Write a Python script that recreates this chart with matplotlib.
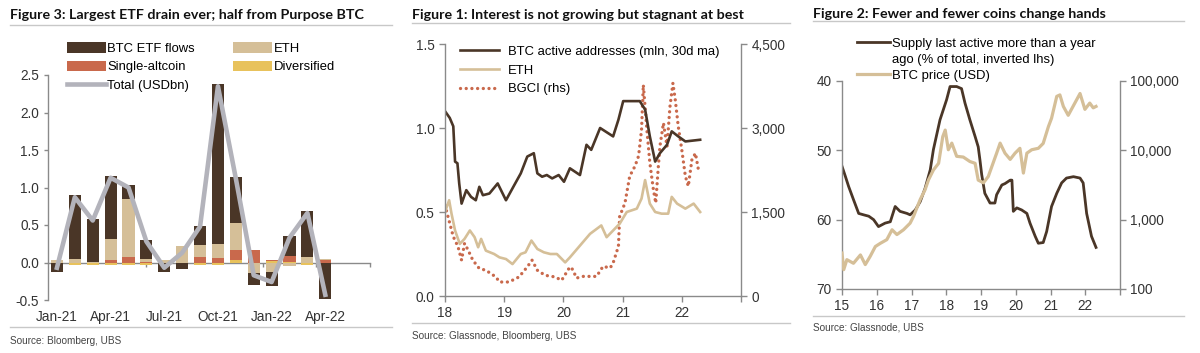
import matplotlib
matplotlib.use('Agg')
import matplotlib.pyplot as plt
import numpy as np
from matplotlib.lines import Line2D
import matplotlib.ticker as mticker

plt.rcParams['font.family'] = ['Liberation Sans', 'DejaVu Sans']

W, H = 1200, 353
fig = plt.figure(figsize=(12, 3.53), dpi=100)


def fx(x):
    return x / W


def fy(y):
    return 1 - y / H


DARK = '#4a3627'
TAN = '#d5bf98'
ORANGE = '#c9694c'
YELLOW = '#e8c25c'
GREY = '#b3b3bb'
SPINE = '#8a8a8a'
TXT = '#333333'
RULE = '#c8c8c8'
TICK_FS = 9.8
LEG_FS = 9.4

# ---------------- Figure 3 data (monthly ETF flows, USDbn) ----------------
months = ['Jan-21', 'Feb-21', 'Mar-21', 'Apr-21', 'May-21', 'Jun-21', 'Jul-21', 'Aug-21',
          'Sep-21', 'Oct-21', 'Nov-21', 'Dec-21', 'Jan-22', 'Feb-22', 'Mar-22', 'Apr-22']
btc_flows = [-0.11, 0.85, 0.57, 0.84, 0.19, 0.25, -0.11, -0.09,
             0.25, 2.13, 0.61, -0.16, -0.19, 0.26, 0.62, -0.48]
eth_flows = [0.04, 0.05, 0.01, 0.28, 0.78, 0.04, 0.03, 0.22,
             0.16, 0.19, 0.36, -0.14, -0.12, -0.04, 0.07, 0.02]
single_flows = [0.00, 0.00, 0.00, 0.04, 0.07, 0.01, 0.00, 0.00,
                0.08, 0.06, 0.14, 0.17, 0.01, 0.08, 0.00, 0.03]
diversified_flows = [-0.01, -0.03, -0.03, -0.03, -0.03, -0.03, -0.01, 0.00,
                     -0.03, -0.03, 0.03, 0.00, 0.02, 0.01, -0.03, 0.00]
total_flows = [-0.07, 0.87, 0.56, 1.13, 1.00, 0.28, -0.07, 0.13,
               0.48, 2.35, 1.12, -0.17, -0.26, 0.33, 0.66, -0.43]
p1_ticklabels = ['Jan-21', 'Apr-21', 'Jul-21', 'Oct-21', 'Jan-22', 'Apr-22']

# ---------------- Figure 1 data ----------------
btc_active_x = [2018.00, 2018.08, 2018.14, 2018.17, 2018.21, 2018.24, 2018.28, 2018.36, 2018.44,
                2018.52, 2018.58, 2018.64, 2018.75, 2018.89, 2019.03, 2019.17, 2019.28, 2019.39,
                2019.50, 2019.56, 2019.64, 2019.72, 2019.81, 2019.92, 2020.01, 2020.11, 2020.28,
                2020.39, 2020.47, 2020.62, 2020.84, 2020.93, 2021.01, 2021.29, 2021.38, 2021.46,
                2021.55, 2021.63, 2021.75, 2021.83, 2021.94, 2022.06, 2022.31]
btc_active_y = [1.10, 1.06, 1.01, 0.80, 0.79, 0.67, 0.55, 0.63, 0.59,
                0.57, 0.65, 0.60, 0.61, 0.67, 0.57, 0.66, 0.73, 0.83,
                0.85, 0.73, 0.71, 0.72, 0.70, 0.72, 0.68, 0.76, 0.72,
                0.90, 0.87, 1.00, 0.95, 1.05, 1.16, 1.16, 1.11, 0.95,
                0.80, 0.85, 0.90, 0.98, 0.95, 0.92, 0.93]
eth_active_x = [2018.00, 2018.07, 2018.11, 2018.17, 2018.25, 2018.33, 2018.42, 2018.50, 2018.56,
                2018.61, 2018.69, 2018.83, 2018.92, 2019.03, 2019.14, 2019.28, 2019.36, 2019.46,
                2019.56, 2019.67, 2019.78, 2019.89, 2020.03, 2020.11, 2020.28, 2020.45, 2020.64,
                2020.73, 2020.84, 2020.95, 2021.07, 2021.24, 2021.32, 2021.38, 2021.46, 2021.55,
                2021.66, 2021.77, 2021.83, 2021.92, 2022.06, 2022.20, 2022.31]
eth_active_y = [0.50, 0.57, 0.49, 0.39, 0.31, 0.34, 0.39, 0.35, 0.29,
                0.34, 0.27, 0.25, 0.23, 0.22, 0.19, 0.25, 0.26, 0.33,
                0.28, 0.26, 0.25, 0.25, 0.20, 0.23, 0.30, 0.37, 0.42,
                0.35, 0.39, 0.43, 0.50, 0.52, 0.58, 0.69, 0.55, 0.50,
                0.49, 0.49, 0.59, 0.55, 0.52, 0.55, 0.50]
bgci_x = [2018.00, 2018.08, 2018.14, 2018.22, 2018.28, 2018.33, 2018.39, 2018.47, 2018.58,
          2018.69, 2018.86, 2018.92, 2019.08, 2019.25, 2019.39, 2019.47, 2019.56, 2019.69,
          2019.86, 2019.97, 2020.11, 2020.16, 2020.22, 2020.33, 2020.56, 2020.67, 2020.79,
          2020.84, 2020.93, 2020.95, 2021.04, 2021.12, 2021.21, 2021.27, 2021.32, 2021.35,
          2021.41, 2021.46, 2021.52, 2021.56, 2021.60, 2021.63, 2021.69, 2021.75, 2021.80,
          2021.85, 2021.89, 2021.94, 2022.00, 2022.06, 2022.11, 2022.17, 2022.23, 2022.28,
          2022.31]
bgci_y = [1620, 1300, 1060, 880, 640, 940, 820, 640, 490,
          460, 340, 250, 250, 340, 520, 640, 460, 370,
          340, 280, 520, 470, 320, 350, 350, 530, 500,
          590, 890, 1420, 1660, 2140, 2320, 2500, 2970, 3770,
          2970, 2380, 1900, 1660, 2260, 2670, 3090, 2670, 3380,
          3800, 3500, 3030, 2610, 2140, 1960, 2430, 2550, 2260,
          2200]

# ---------------- Figure 2 data ----------------
supply_x = [2015.00, 2015.10, 2015.19, 2015.33, 2015.48, 2015.62, 2015.77, 2015.91, 2016.05,
            2016.24, 2016.39, 2016.53, 2016.67, 2016.87, 2016.96, 2017.11, 2017.25, 2017.39,
            2017.54, 2017.63, 2017.82, 2018.01, 2018.11, 2018.30, 2018.44, 2018.54, 2018.68,
            2018.83, 2018.92, 2018.97, 2019.02, 2019.11, 2019.26, 2019.40, 2019.45, 2019.60,
            2019.69, 2019.84, 2019.89, 2019.93, 2020.03, 2020.17, 2020.32, 2020.41, 2020.56,
            2020.65, 2020.79, 2020.89, 2021.03, 2021.18, 2021.32, 2021.46, 2021.66, 2021.85,
            2021.94, 2022.04, 2022.18, 2022.31]
supply_y = [52.3, 53.8, 55.2, 57.1, 59.1, 59.3, 59.5, 60.0, 61.0,
            60.5, 60.3, 58.1, 58.8, 59.1, 59.3, 58.6, 57.4, 55.5,
            52.8, 49.9, 45.6, 42.7, 40.8, 40.8, 41.1, 43.2, 45.6,
            48.0, 49.5, 51.4, 53.5, 56.2, 57.6, 57.6, 56.4, 55.0,
            54.8, 54.3, 54.3, 58.8, 58.3, 58.6, 59.1, 60.5, 62.4,
            63.4, 63.3, 61.7, 58.1, 56.2, 54.7, 54.0, 53.8, 54.0,
            54.7, 59.1, 62.4, 64.0]
price_x = [2015.00, 2015.05, 2015.14, 2015.33, 2015.53, 2015.67, 2015.81, 2015.96, 2016.10,
           2016.29, 2016.44, 2016.58, 2016.77, 2016.96, 2017.06, 2017.25, 2017.39, 2017.49,
           2017.63, 2017.78, 2017.90, 2017.97, 2018.06, 2018.16, 2018.30, 2018.49, 2018.68,
           2018.83, 2018.92, 2019.07, 2019.21, 2019.45, 2019.55, 2019.69, 2019.84, 2019.98,
           2020.12, 2020.22, 2020.32, 2020.46, 2020.65, 2020.79, 2020.94, 2021.03, 2021.18,
           2021.27, 2021.37, 2021.51, 2021.70, 2021.85, 2021.99, 2022.13, 2022.23, 2022.31]
price_y = [330, 190, 265, 235, 310, 225, 295, 410, 455,
           515, 715, 610, 715, 890, 1120, 1950, 2700, 3760,
           5200, 6500, 15800, 19600, 10200, 12700, 8200, 8000, 6900,
           6500, 3720, 3400, 4200, 9100, 12700, 9100, 7400, 9100,
           10700, 4700, 9100, 10200, 10700, 12600, 22000, 29000, 60000,
           63000, 43000, 32000, 48000, 66000, 39000, 48000, 41000, 43000]


def style_spines(ax, sides):
    for s in ['left', 'right', 'top', 'bottom']:
        ax.spines[s].set_visible(s in sides)
        ax.spines[s].set_color(SPINE)
        ax.spines[s].set_linewidth(1.0)
    ax.tick_params(colors=SPINE, labelcolor=TXT, labelsize=TICK_FS, length=4, width=1.0)


def header(x0, x1, ytitle, yrule, title, ybot, ysrc, src):
    fig.text(fx(x0), fy(ytitle), title, fontsize=10.3, fontweight='bold', color='#111111',
             ha='left', va='center', family=['Lato', 'DejaVu Sans'])
    fig.add_artist(Line2D([fx(x0), fx(x1)], [fy(yrule), fy(yrule)], color=RULE, lw=1.0,
                          transform=fig.transFigure))
    fig.add_artist(Line2D([fx(x0), fx(x1)], [fy(ybot), fy(ybot)], color=RULE, lw=1.0,
                          transform=fig.transFigure))
    fig.text(fx(x0), fy(ysrc), src, fontsize=7.2, color='#444444', ha='left', va='center')


# ================= Panel 1 =================
ax1 = fig.add_axes([fx(48), fy(300), fx(370) - fx(48), fy(75) - fy(300)])
x = np.arange(len(months))
series = [(diversified_flows, YELLOW, 'Diversified'),
          (single_flows, ORANGE, 'Single-altcoin'),
          (eth_flows, TAN, 'ETH'),
          (btc_flows, DARK, 'BTC ETF flows')]
pos_base = np.zeros(len(months))
neg_base = np.zeros(len(months))
bars = {}
for vals, col, lab in series:
    v = np.array(vals)
    base = np.where(v >= 0, pos_base, neg_base)
    bars[lab] = ax1.bar(x, v, bottom=base, width=0.68, color=col, label=lab, zorder=2)
    pos_base = pos_base + np.where(v >= 0, v, 0)
    neg_base = neg_base + np.where(v < 0, v, 0)
tot_line, = ax1.plot(x, total_flows, color=GREY, lw=3.3, zorder=4, label='Total (USDbn)')
ax1.set_xlim(-0.5, 17.5)
ax1.set_ylim(-0.5, 2.5)
style_spines(ax1, ['left', 'bottom'])
ax1.spines['bottom'].set_position(('data', 0))
ax1.spines['bottom'].set_zorder(1)
ax1.set_xticks([5, 11.5, 14.5, 17.5])
ax1.tick_params(axis='x', labelbottom=False, length=3)
ax1.set_yticks([-0.5, 0.0, 0.5, 1.0, 1.5, 2.0, 2.5])
ax1.yaxis.set_major_formatter(mticker.FormatStrFormatter('%.1f'))
ax1.tick_params(axis='y', length=3)
sec = ax1.secondary_xaxis(0)
sec.set_xticks([0, 3, 6, 9, 12, 15], labels=p1_ticklabels)
sec.spines['bottom'].set_visible(False)
sec.tick_params(length=0, labelsize=TICK_FS, labelcolor=TXT, pad=7)

handles1 = [bars['BTC ETF flows'], bars['Single-altcoin'], tot_line, bars['ETH'], bars['Diversified']]
labels1 = ['BTC ETF flows', 'Single-altcoin', 'Total (USDbn)', 'ETH', 'Diversified']
fig.legend(handles1, labels1, loc='upper left', bbox_to_anchor=(fx(67), fy(42.5)),
           bbox_transform=fig.transFigure, ncol=2, frameon=False, fontsize=LEG_FS,
           handlelength=3.0, handleheight=0.85, handletextpad=0.1, labelspacing=0.42,
           columnspacing=2.9, borderpad=0, borderaxespad=0)

header(10, 392, 15, 25, 'Figure 3: Largest ETF drain ever; half from Purpose BTC', 327, 341,
       'Source: Bloomberg, UBS')

# ================= Panel 2 =================
ax2 = fig.add_axes([fx(445), fy(296), fx(741) - fx(445), fy(44) - fy(296)])
l_btc, = ax2.plot(btc_active_x, btc_active_y, color=DARK, lw=1.9)
l_eth, = ax2.plot(eth_active_x, eth_active_y, color=TAN, lw=1.9)
ax2.set_xlim(2018, 2023)
ax2.set_ylim(0, 1.5)
style_spines(ax2, ['left', 'bottom'])
ax2.set_xticks([2018, 2019, 2020, 2021, 2022, 2023], labels=['18', '19', '20', '21', '22', ''])
ax2.set_yticks([0.0, 0.5, 1.0, 1.5])
ax2.yaxis.set_major_formatter(mticker.FormatStrFormatter('%.1f'))
ax2r = ax2.twinx()
l_bgci, = ax2r.plot(bgci_x, bgci_y, color=ORANGE, lw=2.4, linestyle=(0, (0.01, 1.7)),
                    dash_capstyle='round')
ax2r.set_ylim(0, 4500)
ax2r.set_xlim(2018, 2023)
style_spines(ax2r, ['right'])
ax2r.set_yticks([0, 1500, 3000, 4500])
ax2r.yaxis.set_major_formatter(mticker.StrMethodFormatter('{x:,.0f}'))
ax2.set_zorder(ax2r.get_zorder() + 1)
ax2.patch.set_visible(False)
fig.legend([l_btc, l_eth, l_bgci], ['BTC active addresses (mln, 30d ma)', 'ETH', 'BGCI (rhs)'],
           loc='upper left', bbox_to_anchor=(fx(460), fy(45.5)), bbox_transform=fig.transFigure,
           frameon=False, fontsize=LEG_FS, handlelength=3.0, handletextpad=0.7, labelspacing=0.52,
           borderpad=0, borderaxespad=0)

header(412, 790, 15, 23, 'Figure 1: Interest is not growing but stagnant at best', 323, 336,
       'Source: Glassnode, Bloomberg, UBS')

# ================= Panel 3 =================
ax3 = fig.add_axes([fx(842), fy(289), fx(1120) - fx(842), fy(81) - fy(289)])
l_sup, = ax3.plot(supply_x, supply_y, color=DARK, lw=2.0)
ax3.set_xlim(2015, 2023)
ax3.set_ylim(70, 40)
style_spines(ax3, ['left', 'bottom'])
ax3.set_xticks(list(range(2015, 2024)), labels=['15', '16', '17', '18', '19', '20', '21', '22', ''])
ax3.set_yticks([40, 50, 60, 70])
ax3r = ax3.twinx()
l_px, = ax3r.plot(price_x, price_y, color=TAN, lw=2.3)
ax3r.set_yscale('log')
ax3r.set_ylim(100, 100000)
ax3r.set_xlim(2015, 2023)
style_spines(ax3r, ['right'])
ax3r.set_yticks([100, 1000, 10000, 100000])
ax3r.yaxis.set_major_formatter(mticker.StrMethodFormatter('{x:,.0f}'))
ax3r.yaxis.set_minor_locator(mticker.NullLocator())
blank = Line2D([], [], color='none')
fig.legend([l_sup, blank, l_px],
           ['Supply last active more than a year', 'ago (% of total, inverted lhs)', 'BTC price (USD)'],
           loc='upper left', bbox_to_anchor=(fx(857), fy(37.5)), bbox_transform=fig.transFigure,
           frameon=False, fontsize=LEG_FS, handlelength=2.5, handletextpad=0.15, labelspacing=0.3,
           borderpad=0, borderaxespad=0)

header(813, 1184, 14, 21, 'Figure 2: Fewer and fewer coins change hands', 316, 328,
       'Source: Glassnode, UBS')

fig.savefig('out.png', dpi=100)
